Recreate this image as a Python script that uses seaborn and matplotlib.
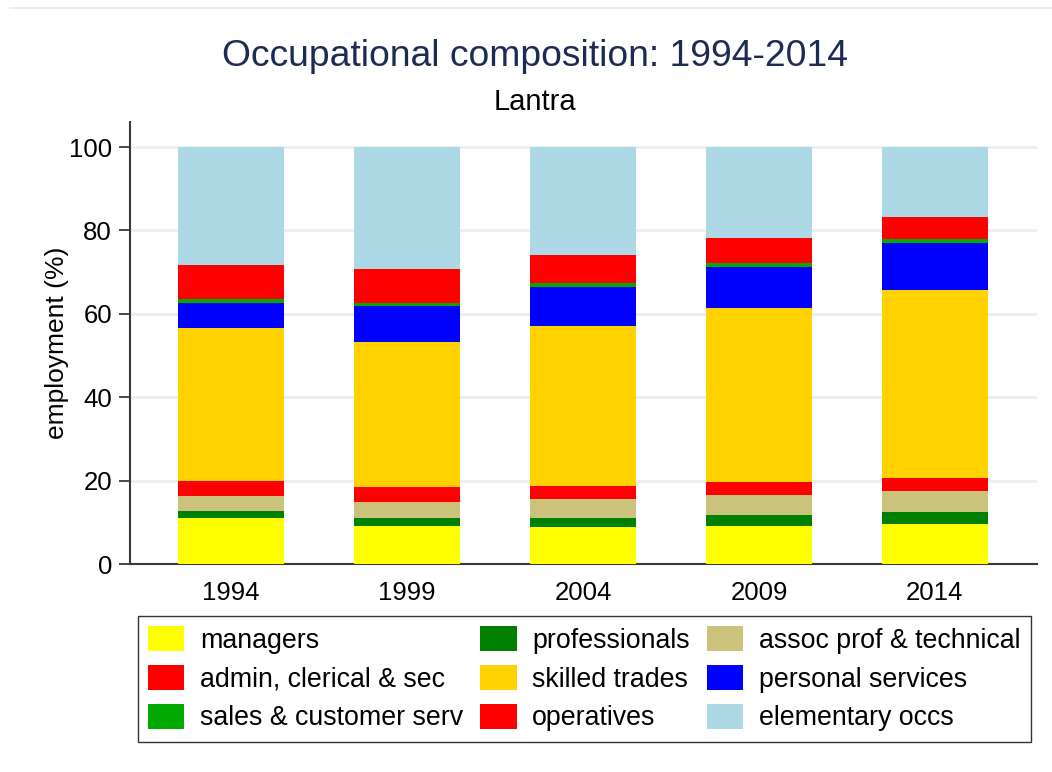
import numpy as np
import pandas as pd
import matplotlib
matplotlib.use("Agg")
import matplotlib.pyplot as plt
import seaborn as sns
from matplotlib.patches import Patch
from matplotlib.lines import Line2D

years = ["1994", "1999", "2004", "2009", "2014"]
managers = [11.0, 9.0, 8.8, 9.1, 9.6]
professionals = [1.8, 2.0, 2.3, 2.7, 2.8]
assoc_prof = [3.6, 3.9, 4.6, 4.8, 5.1]
admin = [3.4, 3.6, 3.0, 3.1, 3.1]
skilled = [36.9, 34.8, 38.4, 41.8, 45.0]
personal = [5.9, 8.5, 9.4, 9.7, 11.3]
sales = [0.9, 0.8, 1.0, 0.9, 1.0]
operatives = [8.2, 8.2, 6.6, 6.1, 5.2]
elementary = [28.3, 29.2, 25.9, 21.8, 16.9]

series_names = ["managers", "professionals", "assoc prof & technical",
                "admin, clerical & sec", "skilled trades", "personal services",
                "sales & customer serv", "operatives", "elementary occs"]
series_vals = [managers, professionals, assoc_prof, admin, skilled, personal,
               sales, operatives, elementary]
colors = ["#ffff00", "#008000", "#cbc27c", "#ff0000", "#ffd200", "#0000ff",
          "#00aa00", "#ff0000", "#add8e6"]

sns.set_theme(style="white")
plt.rcParams['font.family'] = ['Liberation Sans', 'DejaVu Sans']
plt.rcParams['text.color'] = 'black'
plt.rcParams['axes.labelcolor'] = 'black'
plt.rcParams['xtick.color'] = 'black'
plt.rcParams['ytick.color'] = 'black'

fig = plt.figure(figsize=(10.52, 7.72), dpi=100)
ax = fig.add_axes([130/1052, 1-564/772, (1037-130)/1052, (564-122)/772])

cum = np.zeros(len(years))
cums = []
for v in series_vals:
    cum = cum + np.array(v)
    cums.append(cum.copy())

# draw from top layer down so lower layers overlay
for name, c, col in reversed(list(zip(series_names, cums, colors))):
    d = pd.DataFrame({"year": years, "value": c})
    sns.barplot(data=d, x="year", y="value", color=col, saturation=1,
                width=0.6, ax=ax, linewidth=0, zorder=3)

ax.set_xlim(-0.574, 4.58)
ax.set_ylim(0, 106)
ax.set_yticks([0, 20, 40, 60, 80, 100])
ax.yaxis.grid(True, color="#e6eef1", linewidth=1.8, zorder=0)
ax.xaxis.grid(False)
ax.set_axisbelow(True)
for s in ["top", "right"]:
    ax.spines[s].set_visible(False)
for s in ["left", "bottom"]:
    ax.spines[s].set_color("#3a3a3a")
    ax.spines[s].set_linewidth(1.5)
ax.tick_params(axis="y", which="both", left=True, length=8, width=1.3,
               color="#3a3a3a", labelcolor="black", labelsize=18.5, pad=5)
ax.tick_params(axis="x", bottom=False, labelcolor="black", labelsize=18.5, pad=6)
ax.set_xlabel("")
ax.set_ylabel("employment (%)", fontsize=19, labelpad=0, color="black")

fig.text(535/1052, 1-57/772, "Occupational composition: 1994-2014",
         ha="center", va="center", fontsize=26.8, color="#1c2b54")
fig.text(535/1052, 1-102/772, "Lantra", ha="center", va="center",
         fontsize=21, color="black")

# top artifact line
fig.add_artist(Line2D([10/1052, 1.0], [1-8/772, 1-8/772], color="#e3ecee",
                      linewidth=1.2, transform=fig.transFigure))

handles = [Patch(facecolor=c, edgecolor="none", label=n)
           for n, c in zip(series_names, colors)]
order = [0, 3, 6, 1, 4, 7, 2, 5, 8]
leg = fig.legend([handles[i] for i in order], [series_names[i] for i in order],
                 ncol=3, loc="upper left",
                 bbox_to_anchor=(138/1052, 1-616/772),
                 frameon=True, fancybox=False, edgecolor="black",
                 fontsize=19.3, handlelength=1.35, handleheight=1.05,
                 handletextpad=0.58, columnspacing=0.65, labelspacing=0.42,
                 borderpad=0.38, borderaxespad=0)
leg.get_frame().set_linewidth(1.0)
for t in leg.get_texts():
    t.set_color("black")

fig.savefig("out.png", dpi=100)
